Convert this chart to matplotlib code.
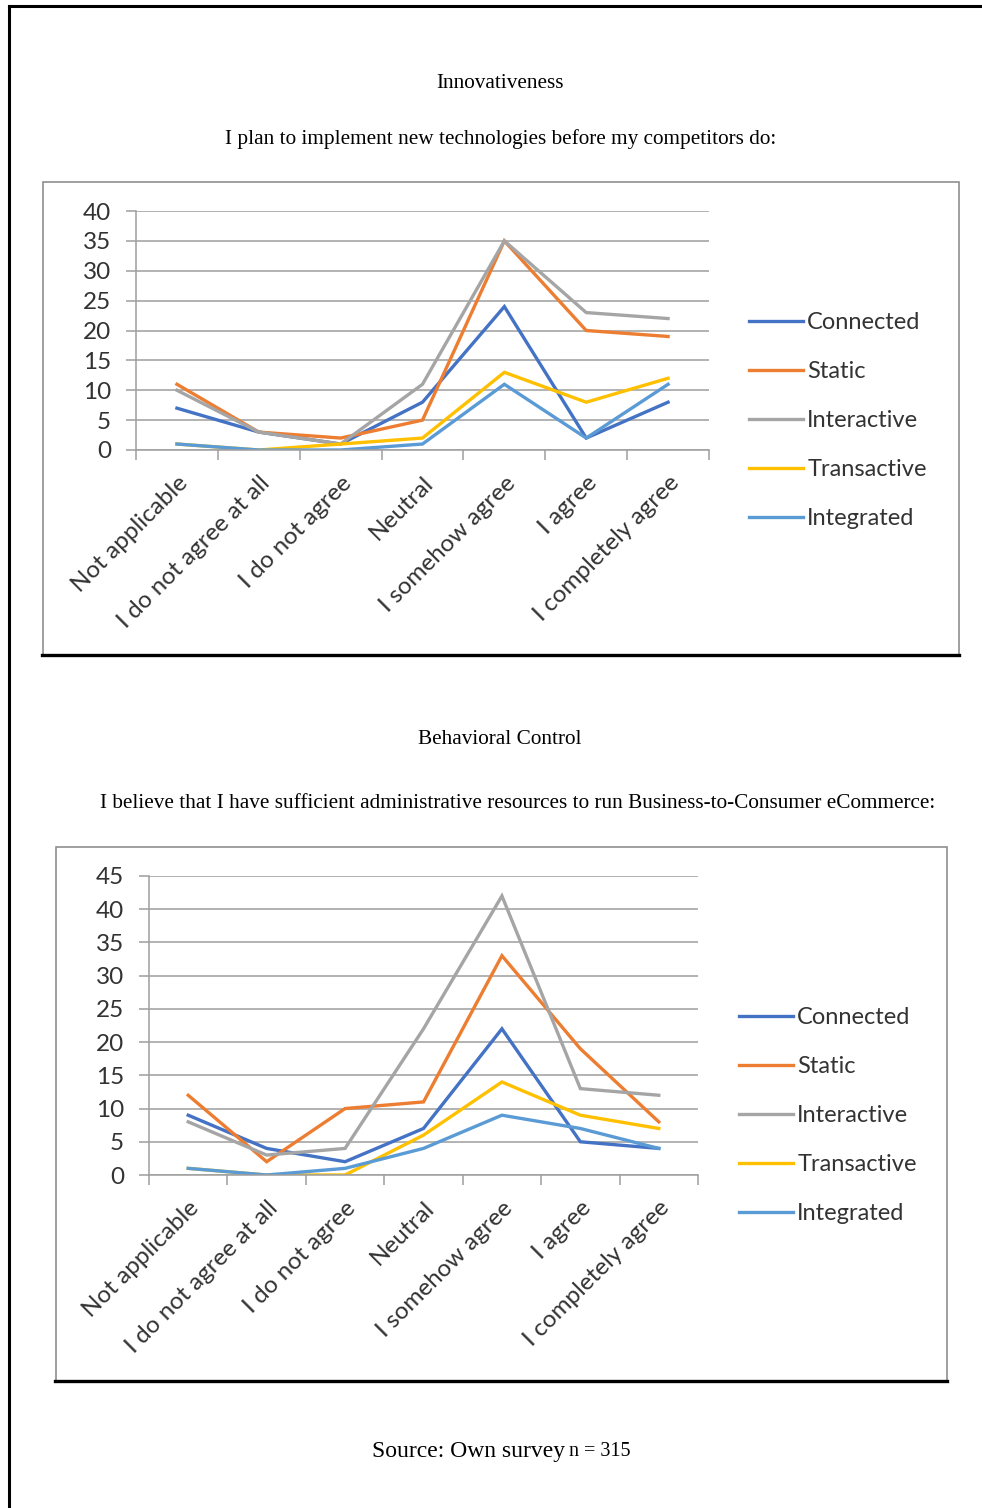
import matplotlib.pyplot as plt
import numpy as np

categories = ["Not applicable", "I do not agree at all", "I do not agree", "Neutral",
              "I somehow agree", "I agree", "I completely agree"]
series_names = ["Connected", "Static", "Interactive", "Transactive", "Integrated"]
colors = ["#4472C4", "#ED7D31", "#A5A5A5", "#FFC000", "#5B9BD5"]

# Innovativeness: "I plan to implement new technologies before my competitors do"
innov_connected   = [7, 3, 1, 8, 24, 2, 8]
innov_static      = [11, 3, 2, 5, 35, 20, 19]
innov_interactive = [10, 3, 1, 11, 35, 23, 22]
innov_transactive = [1, 0, 1, 2, 13, 8, 12]
innov_integrated  = [1, 0, 0, 1, 11, 2, 11]

# Behavioral control: "sufficient administrative resources"
behav_connected   = [9, 4, 2, 7, 22, 5, 4]
behav_static      = [12, 2, 10, 11, 33, 19, 8]
behav_interactive = [8, 3, 4, 22, 42, 13, 12]
behav_transactive = [1, 0, 0, 6, 14, 9, 7]
behav_integrated  = [1, 0, 1, 4, 9, 7, 4]

W, H = 982, 1508
fig = plt.figure(figsize=(W / 100, H / 100), dpi=100)
fig.patch.set_facecolor("white")

def px_box(x0, y0, x1, y1):
    return [x0 / W, 1 - y1 / H, (x1 - x0) / W, (y1 - y0) / H]

def fx(x):
    return x / W

def fy(y):
    return 1 - y / H

serif = "Liberation Serif"
sans = "Lato"

# page border (top and left)
fig.add_artist(plt.Line2D([fx(9), fx(982)], [fy(6), fy(6)], color="black", lw=2.2))
fig.add_artist(plt.Line2D([fx(9), fx(9)], [fy(6), fy(1508)], color="black", lw=2.2))

def chart_frame(x0, y0, x1, y1):
    fig.add_artist(plt.Rectangle((fx(x0), fy(y1)), fx(x1) - fx(x0), fy(y0) - fy(y1),
                                 fill=False, edgecolor="#8f8f8f", lw=1.2))
    fig.add_artist(plt.Line2D([fx(x0 - 1), fx(x1)], [fy(y1), fy(y1)], color="black", lw=2.4))

def line_chart(rect, data, ymax, legend_x, legend_y0):
    ax = fig.add_axes(rect)
    x = np.arange(len(categories)) + 0.5
    for name, vals, c in zip(series_names, data, colors):
        ax.plot(x, vals, color=c, lw=2.4, label=name, solid_joinstyle="miter")
    ax.set_xlim(0, len(categories))
    ax.set_ylim(0, ymax)
    ax.set_yticks(np.arange(0, ymax + 1, 5))
    ax.grid(axis="y", color="#9e9e9e", lw=1.1)
    ax.set_axisbelow(True)
    for s in ["top", "right"]:
        ax.spines[s].set_visible(False)
    for s in ["left", "bottom"]:
        ax.spines[s].set_color("#9e9e9e")
        ax.spines[s].set_linewidth(1.1)
    ax.set_xticks(np.arange(len(categories) + 1))
    ax.set_xticklabels([])
    ax.set_xticks(x, minor=True)
    ax.set_xticklabels(categories, minor=True, rotation=45, ha="right", va="top",
                       rotation_mode="anchor", fontsize=17.5, family=sans, color="#333333")
    ax.tick_params(axis="x", which="major", length=7, color="#9e9e9e", width=1.1, direction="out")
    ax.tick_params(axis="x", which="minor", length=0, pad=16)
    ax.tick_params(axis="y", length=7, color="#9e9e9e", width=1.1, pad=11,
                   labelsize=17.5, labelcolor="#333333")
    for t in ax.get_yticklabels():
        t.set_family(sans)
    handles, labels = ax.get_legend_handles_labels()
    leg = fig.legend(handles, labels, loc="upper left",
                     bbox_to_anchor=(fx(legend_x), fy(legend_y0)), frameon=False,
                     prop={"family": sans, "size": 17}, handlelength=2.25,
                     handletextpad=0.2, labelspacing=1.18, borderaxespad=0)
    for t in leg.get_texts():
        t.set_color("#333333")
    return ax

# first chart
fig.text(fx(500), fy(84), "Innovativeness", ha="center", va="center", family=serif, fontsize=15.3)
fig.text(fx(501), fy(139), "I plan to implement new technologies before my competitors do:",
         ha="center", va="center", family=serif, fontsize=15.3)
chart_frame(43, 182, 959, 655)
line_chart(px_box(136, 211, 709, 450),
           [innov_connected, innov_static, innov_interactive, innov_transactive, innov_integrated],
           40, 740, 303)

# second chart
fig.text(fx(500), fy(740), "Behavioral Control", ha="center", va="center", family=serif, fontsize=15.3)
fig.text(fx(518), fy(804),
         "I believe that I have sufficient administrative resources to run Business-to-Consumer eCommerce:",
         ha="center", va="center", family=serif, fontsize=15.3)
chart_frame(56, 847, 947, 1381)
line_chart(px_box(149, 876, 698, 1175),
           [behav_connected, behav_static, behav_interactive, behav_transactive, behav_integrated],
           45, 730, 998)

fig.text(fx(565), fy(1452), "Source: Own survey", ha="right", va="center",
         family=serif, fontsize=17)
fig.text(fx(569), fy(1452), "n = 315", ha="left", va="center",
         family=serif, fontsize=14.5)

fig.savefig("out.png", dpi=100, facecolor="white")
